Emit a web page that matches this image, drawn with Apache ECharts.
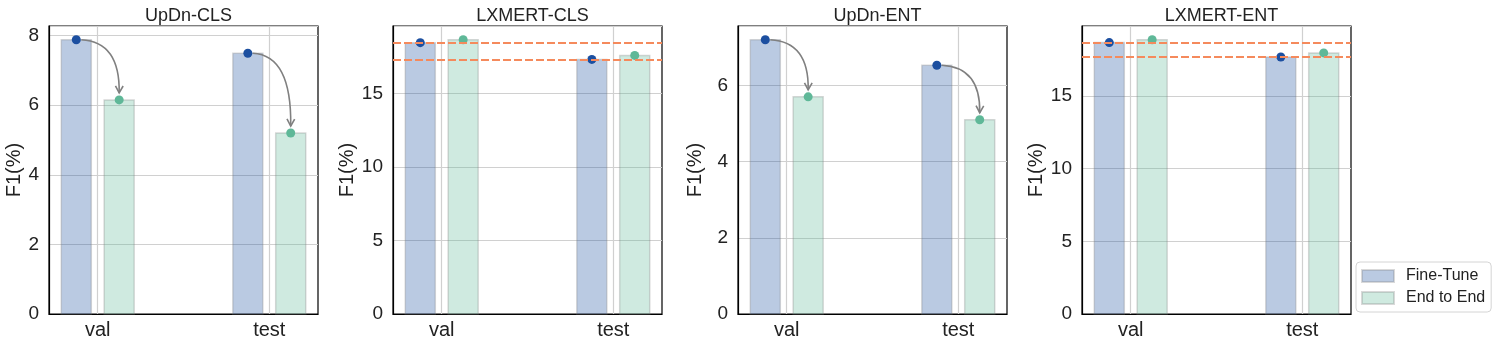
<!DOCTYPE html>
<html>
<head>
<meta charset="utf-8">
<script src="https://cdn.jsdelivr.net/npm/echarts@6/dist/echarts.min.js"></script>
<style>
  html, body { margin: 0; padding: 0; background: #fff; }
  #chart { width: 1495px; height: 343px; }
</style>
</head>
<body>
<div id="chart"></div>
<script>
// data
const panels = ['UpDn-CLS', 'LXMERT-CLS', 'UpDn-ENT', 'LXMERT-ENT']
const splits = ['val', 'test']
const fineTuneF1 = [[7.88, 7.49], [18.48, 17.34], [7.20, 6.53], [18.68, 17.69]]
const endToEndF1 = [[6.15, 5.20], [18.68, 17.61], [5.70, 5.10], [18.88, 17.97]]
const yTickStep = [2, 5, 2, 5]
const showArrows = [true, false, true, false]
const showRefLines = [false, true, false, true]

const FONT = '"Liberation Sans", Arial, Helvetica, sans-serif'
const gridLeft = [49, 393, 738, 1082]
const gridWidth = 269
const nameGap = [24, 34, 33, 34]
const BAR_OFF = 0.125
const BAR_W = 0.175

const ftColor = '#1c4fa0'
const e2eColor = '#5fb898'
const ftFill = 'rgba(28,79,160,0.3)'
const e2eFill = 'rgba(95,184,152,0.3)'
const barEdge = 'rgba(128,128,128,0.3)'

const chart = echarts.init(document.getElementById('chart'))

// bar drawn through the axis scales
const barRender = (offset, fill) => (params, api) => {
  const x = api.value(0) + offset
  const p0 = api.coord([x - BAR_W / 2, api.value(1)])
  const p1 = api.coord([x + BAR_W / 2, 0])
  return {
    type: 'rect',
    shape: { x: p0[0], y: p0[1], width: p1[0] - p0[0], height: p1[1] - p0[1] },
    style: { fill: fill, stroke: barEdge, lineWidth: 1.5 }
  }
}

// curved arrow from the fine-tune dot to the end-to-end dot
const arrowRender = (params, api) => {
  const x = api.value(0)
  const s = api.coord([x - BAR_OFF, api.value(1)])
  const e = api.coord([x + BAR_OFF, api.value(2)])
  const sx = s[0] + 5, sy = s[1]
  const ex = e[0], ey = e[1] - 7
  const cx = ex + 1, cy = sy + 2
  const ang = Math.atan2(ey - cy, ex - cx)
  const len = 8, spread = 0.5
  const a1 = [ex - len * Math.cos(ang - spread), ey - len * Math.sin(ang - spread)]
  const a2 = [ex - len * Math.cos(ang + spread), ey - len * Math.sin(ang + spread)]
  const st = { stroke: '#808080', lineWidth: 1.6, fill: null }
  return {
    type: 'group',
    children: [
      { type: 'bezierCurve', shape: { x1: sx, y1: sy, x2: ex, y2: ey, cpx1: cx, cpy1: cy }, style: st },
      { type: 'polyline', shape: { points: [a1, [ex, ey], a2] }, style: st }
    ]
  }
}

const grids = [], xAxes = [], yAxes = [], titles = [], series = []

panels.forEach((name, i) => {
  const ft = fineTuneF1[i]
  const e2e = endToEndF1[i]
  grids.push({
    left: gridLeft[i], width: gridWidth, top: 26, height: 288,
    show: true, borderColor: '#000', borderWidth: 1.2, containLabel: false
  })
  titles.push({
    text: name, left: gridLeft[i] + gridWidth / 2, top: 2, textAlign: 'center',
    textStyle: { fontFamily: FONT, fontSize: 18, fontWeight: 'normal', color: '#222' }
  })
  xAxes.push({
    type: 'value', gridIndex: i, min: -0.284, max: 1.284,
    axisLine: { show: true, onZero: false, lineStyle: { color: '#000', width: 1.2 } },
    axisTick: { show: false, customValues: [0, 1] },
    axisLabel: {
      customValues: [0, 1], formatter: v => splits[Math.round(v)],
      fontFamily: FONT, fontSize: 20, color: '#222', margin: 6
    },
    splitLine: { show: true, lineStyle: { color: '#d0d0d0', width: 1.2 } }
  })
  yAxes.push({
    type: 'value', gridIndex: i, min: 0,
    max: Math.max(...ft, ...e2e) * 1.05, interval: yTickStep[i],
    name: 'F1(%)', nameLocation: 'middle', nameGap: nameGap[i], nameRotate: 90,
    nameTextStyle: { fontFamily: FONT, fontSize: 20, color: '#222' },
    axisLine: { show: true, onZero: false, lineStyle: { color: '#000', width: 1.2 } },
    axisTick: { show: false },
    axisLabel: { showMaxLabel: false, fontFamily: FONT, fontSize: 19, color: '#222', margin: 10 },
    splitLine: { show: true, lineStyle: { color: '#d0d0d0', width: 1.2 } }
  })

  const ftBars = {
    type: 'custom', name: 'Fine-Tune', xAxisIndex: i, yAxisIndex: i,
    data: splits.map((s, j) => [j, ft[j]]),
    encode: { x: 0, y: 1 },
    renderItem: barRender(-BAR_OFF, ftFill),
    itemStyle: { color: ftFill, borderColor: barEdge, borderWidth: 1.5 },
    z: 2
  }
  if (showRefLines[i]) {
    ftBars.markLine = {
      silent: true, symbol: 'none', z: 10,
      label: { show: false },
      lineStyle: { type: [8, 3], color: '#f58a5c', width: 2 },
      data: ft.map(v => ({ yAxis: v }))
    }
  }
  series.push(ftBars)
  series.push({
    type: 'custom', name: 'End to End', xAxisIndex: i, yAxisIndex: i,
    data: splits.map((s, j) => [j, e2e[j]]),
    encode: { x: 0, y: 1 },
    renderItem: barRender(BAR_OFF, e2eFill),
    itemStyle: { color: e2eFill, borderColor: barEdge, borderWidth: 1.5 },
    z: 2
  })
  series.push({
    type: 'scatter', name: 'ft-dot', xAxisIndex: i, yAxisIndex: i,
    data: splits.map((s, j) => [j - BAR_OFF, ft[j]]),
    symbolSize: 9, itemStyle: { color: ftColor, opacity: 1 }, z: 4
  })
  series.push({
    type: 'scatter', name: 'e2e-dot', xAxisIndex: i, yAxisIndex: i,
    data: splits.map((s, j) => [j + BAR_OFF, e2e[j]]),
    symbolSize: 9, itemStyle: { color: e2eColor, opacity: 1 }, z: 4
  })
  if (showArrows[i]) {
    series.push({
      type: 'custom', name: 'arrow', xAxisIndex: i, yAxisIndex: i,
      data: splits.map((s, j) => [j, ft[j], e2e[j]]),
      encode: { x: 0, y: 1 },
      renderItem: arrowRender, z: 5, silent: true
    })
  }
})

chart.setOption({
  animation: false,
  title: titles,
  grid: grids,
  xAxis: xAxes,
  yAxis: yAxes,
  legend: {
    data: ['Fine-Tune', 'End to End'],
    orient: 'vertical', left: 1356, top: 262,
    itemWidth: 32, itemHeight: 12, itemGap: 6,
    icon: 'rect',
    padding: [6, 6, 6, 5],
    borderColor: '#d4d4d4', borderWidth: 1, borderRadius: 4,
    textStyle: { fontFamily: FONT, fontSize: 16, color: '#222', padding: [0, 0, 0, 7] }
  },
  series: series
})
</script>
</body>
</html>
